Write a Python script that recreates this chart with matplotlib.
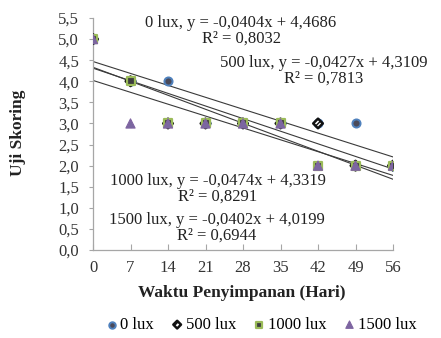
import matplotlib
matplotlib.use("Agg")
import matplotlib.pyplot as plt
import numpy as np

plt.rcParams['font.family'] = ['Liberation Serif', 'DejaVu Serif']

days = [0, 7, 14, 21, 28, 35, 42, 49, 56]
series_names = ["0 lux", "500 lux", "1000 lux", "1500 lux"]
lux0 = [5, 4, 4, 3, 3, 3, 3, 3, 2]
lux500 = [5, 4, 3, 3, 3, 3, 3, 2, 2]
lux1000 = [5, 4, 3, 3, 3, 3, 2, 2, 2]
lux1500 = [5, 3, 3, 3, 3, 3, 2, 2, 2]
slopes = [-0.0404, -0.0427, -0.0474, -0.0402]
intercepts = [4.4686, 4.3109, 4.3319, 4.0199]
r2 = [0.8032, 0.7813, 0.8291, 0.6944]
yticks = [0.0, 0.5, 1.0, 1.5, 2.0, 2.5, 3.0, 3.5, 4.0, 4.5, 5.0, 5.5]

W, H = 441, 338
fig = plt.figure(figsize=(W / 100, H / 100), dpi=100)
ax = fig.add_axes([93 / W, 1 - 250 / H, 300 / W, 232 / H])

styles = [
    dict(marker='o', s=34, facecolor='#4a4a5a', edgecolor='#4f81bd', linewidths=1.4),
    dict(marker='D', s=24, facecolor='white', edgecolor='#111111', linewidths=1.8, hatch='////'),
    dict(marker='s', s=38, facecolor='#3d3d3d', edgecolor='#9bbb59', linewidths=1.6),
    dict(marker='^', s=44, facecolor='#7a68a0', edgecolor='#8064a2', linewidths=0.8, hatch='....'),
]
data = [lux0, lux500, lux1000, lux1500]

xs = np.array([days[0], days[-1]])
for m, b in zip(slopes, intercepts):
    ax.plot(xs, m * xs + b, color='#3a3a3a', lw=0.8, zorder=2)

handles = []
for name, vals, st in zip(series_names, data, styles):
    h = ax.scatter(days, vals, zorder=3, label=name, **st)
    handles.append(h)

ax.set_xlim(0, 56)
ax.set_ylim(0, 5.5)
ax.set_xticks(days)
ax.set_xticklabels([str(d) for d in days])
ax.set_yticks(yticks)
ax.set_yticklabels([f"{v:.1f}".replace('.', ',') for v in yticks])
for s in ['top', 'right']:
    ax.spines[s].set_visible(False)
for s in ['left', 'bottom']:
    ax.spines[s].set_color('#a6a6a6')
    ax.spines[s].set_linewidth(0.9)
ax.tick_params(axis='y', direction='out', length=3, color='#a6a6a6', labelsize=12, pad=7, labelcolor='#333333')
ax.tick_params(axis='x', direction='in', length=4, color='#a6a6a6', labelsize=12, pad=7, labelcolor='#333333')

def fmt(v, n):
    return f"{v:.{n}f}".replace('.', ',')

pos = [(241, 22), (324, 62), (218, 180), (217, 219)]
for name, m, b, r, (px, py) in zip(series_names, slopes, intercepts, r2, pos):
    txt = f"{name}, y = {fmt(m, 4)}x + {fmt(b, 4)}\nR² = {fmt(r, 4)}"
    fig.text(px / W, 1 - (py + 9) / H, txt, ha='center', va='center', fontsize=12,
             color='#222222', linespacing=1.0)

fig.text(18 / W, 1 - 133 / H, "Uji Skoring", rotation=90, ha='center', va='center',
         fontsize=12.5, fontweight='bold', color='#222222')
fig.text(242 / W, 1 - 293 / H, "Waktu Penyimpanan (Hari)", ha='center', va='center',
         fontsize=12.5, fontweight='bold', color='#222222')

fig.legend(handles=handles, labels=series_names, loc='center', bbox_to_anchor=(260 / W, 1 - 325 / H),
           ncol=4, frameon=False, fontsize=12, handletextpad=0.0, columnspacing=0.9,
           markerscale=0.8, borderpad=0, handlelength=1.0)

fig.savefig("out.png", dpi=100)
